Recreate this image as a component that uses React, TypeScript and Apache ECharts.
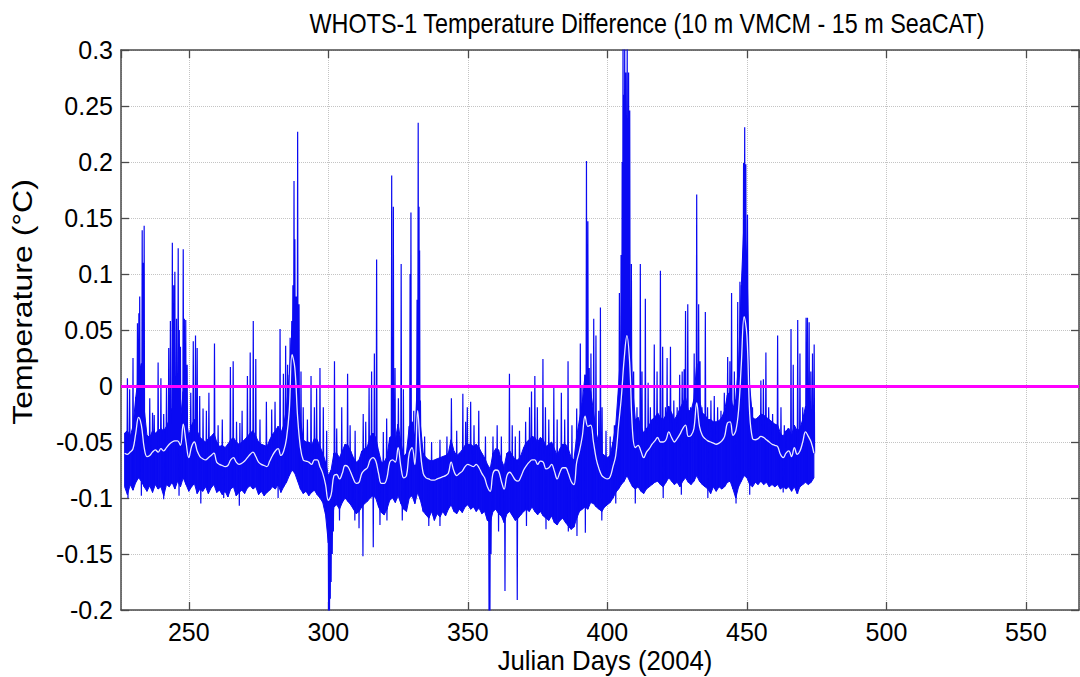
import React, { useEffect, useRef } from "react";
import * as echarts from "echarts";

const TITLE = "WHOTS-1 Temperature Difference (10 m VMCM - 15 m SeaCAT)";
const X_NAME = "Julian Days (2004)";
const Y_NAME = "Temperature (°C)";

const X_MIN = 225.7;
const X_MAX = 569;
const Y_MIN = -0.2;
const Y_MAX = 0.3;
const Y_STEP = 0.05;

// one sample per Julian day, starting at FIRST_DAY
const FIRST_DAY = 227;

// smoothed (white) curve, per day 227..474
const dailyMean = [
  -0.060, -0.061, -0.059, -0.056, -0.042, -0.028, -0.035, -0.055, -0.063, -0.062,
  -0.059, -0.057, -0.059, -0.056, -0.058, -0.055, -0.052, -0.050, -0.049, -0.049,
  -0.053, -0.034, -0.050, -0.064, -0.054, -0.050, -0.058, -0.063, -0.065, -0.066,
  -0.064, -0.062, -0.060, -0.068, -0.070, -0.071, -0.072, -0.071, -0.066, -0.064,
  -0.068, -0.070, -0.069, -0.067, -0.064, -0.061, -0.059, -0.063, -0.068, -0.070,
  -0.071, -0.072, -0.067, -0.062, -0.058, -0.056, -0.062, -0.058, -0.047, -0.022,
  0.028, 0.016, -0.028, -0.055, -0.066, -0.067, -0.068, -0.070, -0.066, -0.066,
  -0.072, -0.078, -0.088, -0.102, -0.097, -0.080, -0.079, -0.083, -0.078, -0.071,
  -0.072, -0.077, -0.083, -0.087, -0.086, -0.078, -0.075, -0.073, -0.066, -0.064,
  -0.067, -0.078, -0.087, -0.087, -0.082, -0.068, -0.066, -0.068, -0.055, -0.072,
  -0.082, -0.080, -0.060, -0.055, -0.070, -0.022, -0.058, -0.078, -0.082, -0.083,
  -0.084, -0.084, -0.083, -0.082, -0.081, -0.080, -0.078, -0.068, -0.076, -0.080,
  -0.078, -0.076, -0.072, -0.070, -0.071, -0.072, -0.070, -0.073, -0.078, -0.082,
  -0.090, -0.094, -0.078, -0.075, -0.076, -0.085, -0.092, -0.080, -0.077, -0.080,
  -0.084, -0.085, -0.081, -0.075, -0.071, -0.068, -0.066, -0.066, -0.070, -0.067,
  -0.068, -0.074, -0.073, -0.070, -0.076, -0.083, -0.077, -0.073, -0.073, -0.078,
  -0.085, -0.088, -0.068, -0.058, -0.045, -0.027, -0.036, -0.035, -0.050, -0.065,
  -0.074, -0.080, -0.082, -0.083, -0.081, -0.072, -0.062, -0.035, -0.010, 0.024,
  0.045, 0.020, -0.040, -0.055, -0.053, -0.058, -0.064, -0.059, -0.056, -0.052,
  -0.049, -0.046, -0.050, -0.050, -0.048, -0.041, -0.046, -0.050, -0.047, -0.043,
  -0.038, -0.035, -0.045, -0.044, -0.038, -0.015, -0.036, -0.044, -0.047, -0.049,
  -0.050, -0.051, -0.052, -0.051, -0.049, -0.045, -0.033, -0.032, -0.044, -0.040,
  -0.022, 0.020, 0.062, 0.045, -0.025, -0.047, -0.048, -0.047, -0.045, -0.046,
  -0.048, -0.050, -0.052, -0.053, -0.054, -0.061, -0.064, -0.060, -0.058, -0.063,
  -0.055, -0.061, -0.058, -0.050, -0.041, -0.045, -0.050, -0.060,
];

// lower edge of the dense blue band, per day 227..474
const bandLow = [
  -0.090, -0.097, -0.088, -0.093, -0.086, -0.082, -0.085, -0.090, -0.094, -0.089,
  -0.095, -0.088, -0.092, -0.090, -0.098, -0.088, -0.090, -0.086, -0.092, -0.085,
  -0.090, -0.082, -0.088, -0.094, -0.090, -0.087, -0.096, -0.092, -0.094, -0.090,
  -0.096, -0.091, -0.088, -0.095, -0.093, -0.097, -0.094, -0.099, -0.092, -0.090,
  -0.098, -0.095, -0.093, -0.096, -0.091, -0.089, -0.092, -0.090, -0.097, -0.094,
  -0.098, -0.095, -0.093, -0.090, -0.092, -0.088, -0.095, -0.090, -0.086, -0.080,
  -0.075, -0.078, -0.085, -0.092, -0.096, -0.094, -0.098, -0.095, -0.093, -0.097,
  -0.100, -0.104, -0.115, -0.140, -0.130, -0.108, -0.106, -0.110, -0.104, -0.100,
  -0.103, -0.106, -0.110, -0.114, -0.112, -0.108, -0.105, -0.103, -0.100, -0.098,
  -0.100, -0.108, -0.113, -0.115, -0.110, -0.102, -0.100, -0.104, -0.098, -0.105,
  -0.110, -0.112, -0.100, -0.098, -0.105, -0.095, -0.102, -0.112, -0.115, -0.118,
  -0.112, -0.120, -0.114, -0.117, -0.112, -0.116, -0.110, -0.106, -0.112, -0.114,
  -0.110, -0.113, -0.108, -0.106, -0.110, -0.108, -0.112, -0.109, -0.114, -0.112,
  -0.120, -0.122, -0.112, -0.110, -0.114, -0.116, -0.122, -0.114, -0.112, -0.116,
  -0.120, -0.118, -0.115, -0.112, -0.110, -0.112, -0.108, -0.112, -0.115, -0.112,
  -0.116, -0.118, -0.120, -0.116, -0.122, -0.124, -0.120, -0.118, -0.122, -0.125,
  -0.128, -0.126, -0.118, -0.112, -0.110, -0.108, -0.110, -0.104, -0.105, -0.108,
  -0.110, -0.112, -0.108, -0.106, -0.104, -0.100, -0.095, -0.092, -0.088, -0.085,
  -0.080, -0.085, -0.090, -0.092, -0.090, -0.094, -0.096, -0.092, -0.090, -0.088,
  -0.086, -0.085, -0.088, -0.090, -0.086, -0.082, -0.085, -0.088, -0.086, -0.090,
  -0.085, -0.082, -0.086, -0.088, -0.085, -0.080, -0.085, -0.088, -0.090, -0.092,
  -0.096, -0.090, -0.094, -0.090, -0.092, -0.090, -0.086, -0.085, -0.092, -0.100,
  -0.090, -0.085, -0.080, -0.082, -0.088, -0.090, -0.086, -0.088, -0.085, -0.088,
  -0.086, -0.090, -0.088, -0.090, -0.088, -0.092, -0.090, -0.092, -0.090, -0.094,
  -0.090, -0.096, -0.090, -0.088, -0.086, -0.088, -0.086, -0.082,
];

// upper edge of the dense blue band, per day 227..474
const bandHigh = [
  -0.042, -0.040, -0.045, -0.036, -0.010, 0.010, 0.020, -0.020, -0.044, -0.046,
  -0.040, -0.042, -0.040, -0.038, -0.040, -0.036, -0.030, -0.020, -0.025, -0.022,
  -0.030, -0.005, -0.028, -0.045, -0.035, -0.030, -0.040, -0.046, -0.048, -0.050,
  -0.047, -0.045, -0.042, -0.050, -0.054, -0.053, -0.055, -0.052, -0.048, -0.046,
  -0.050, -0.052, -0.050, -0.048, -0.045, -0.042, -0.040, -0.045, -0.050, -0.052,
  -0.053, -0.054, -0.048, -0.043, -0.040, -0.036, -0.042, -0.035, -0.020, 0.010,
  0.050, 0.050, 0.015, -0.030, -0.048, -0.050, -0.050, -0.053, -0.047, -0.048,
  -0.054, -0.060, -0.068, -0.080, -0.075, -0.060, -0.060, -0.064, -0.058, -0.052,
  -0.053, -0.058, -0.064, -0.068, -0.066, -0.058, -0.056, -0.054, -0.045, -0.042,
  -0.046, -0.058, -0.068, -0.068, -0.063, -0.046, -0.044, -0.048, -0.034, -0.050,
  -0.063, -0.060, -0.036, -0.032, -0.046, 0.010, -0.035, -0.060, -0.064, -0.066,
  -0.067, -0.066, -0.065, -0.064, -0.063, -0.062, -0.060, -0.048, -0.058, -0.062,
  -0.060, -0.057, -0.053, -0.052, -0.052, -0.054, -0.052, -0.055, -0.060, -0.064,
  -0.070, -0.074, -0.060, -0.056, -0.057, -0.066, -0.072, -0.060, -0.058, -0.062,
  -0.066, -0.066, -0.062, -0.055, -0.050, -0.048, -0.045, -0.046, -0.050, -0.046,
  -0.048, -0.054, -0.052, -0.050, -0.056, -0.062, -0.056, -0.052, -0.052, -0.056,
  -0.064, -0.066, -0.045, -0.030, -0.015, 0.010, 0.000, -0.005, -0.022, -0.042,
  -0.052, -0.060, -0.062, -0.064, -0.062, -0.050, -0.035, 0.000, 0.040, 0.090,
  0.110, 0.070, 0.000, -0.030, -0.028, -0.036, -0.042, -0.038, -0.035, -0.030,
  -0.028, -0.024, -0.028, -0.030, -0.026, -0.018, -0.024, -0.030, -0.026, -0.020,
  -0.015, -0.010, -0.022, -0.022, -0.012, 0.020, -0.012, -0.024, -0.026, -0.030,
  -0.030, -0.032, -0.032, -0.031, -0.028, -0.022, -0.008, -0.005, -0.020, -0.012,
  0.020, 0.090, 0.150, 0.110, 0.000, -0.028, -0.030, -0.028, -0.025, -0.026,
  -0.028, -0.030, -0.032, -0.034, -0.035, -0.042, -0.045, -0.040, -0.038, -0.044,
  -0.035, -0.040, -0.038, -0.030, -0.018, -0.022, -0.028, -0.035,
];

// upward spikes: [day, tip value]
const spikeTips: [number, number][] = [
  [228.0, 0.007], [228.8, -0.003], [230.0, 0.025], [231.6, 0.056], [232.1, 0.065], [232.4, 0.08],
  [233.3, 0.139], [233.6, 0.11], [234.0, 0.143], [236.0, -0.011], [237.0, -0.024], [237.6, -0.026],
  [239.0, 0.021], [240.0, 0.007], [241.0, -0.025], [242.0, -0.001], [242.8, 0.034], [243.4, 0.058],
  [244.1, 0.128], [244.6, 0.09], [245.0, 0.102], [245.6, 0.06], [246.2, 0.123], [246.6, 0.05],
  [247.0, 0.035], [248.0, 0.122], [248.4, 0.06], [248.9, 0.059], [249.4, 0.019], [250.7, -0.006],
  [251.6, 0.04], [252.4, 0.045], [253.0, 0.034], [253.9, -0.009], [255.1, -0.02], [256.3, -0.022],
  [257.2, -0.006], [259.2, 0.038], [260.5, -0.035], [262.0, -0.03], [264.9, 0.017], [265.9, 0.022],
  [267.1, -0.032], [268.3, -0.033], [269.1, -0.022], [271.0, 0.009], [272.0, 0.03], [273.1, 0.058],
  [274.0, 0.024], [275.5, -0.03], [277.8, -0.014], [279.7, -0.021], [280.9, -0.014], [282.7, 0.051],
  [283.9, 0.011], [284.7, 0.036], [285.4, 0.019], [286.3, 0.043], [286.9, 0.058], [287.3, 0.09],
  [287.7, 0.183], [288.0, 0.131], [288.5, 0.08], [289.0, 0.227], [289.5, 0.073], [290.2, 0.013],
  [291.0, -0.019], [292.5, -0.03], [293.8, 0.009], [295.0, -0.019], [295.8, -0.002], [297.0, 0.016],
  [298.2, -0.019], [299.4, -0.04], [302.2, 0.022], [303.0, -0.038], [304.8, -0.019], [306.9, 0.011],
  [307.8, -0.035], [309.6, -0.04], [312.5, -0.025], [313.4, -0.032], [314.6, 0.0], [315.5, 0.013],
  [316.5, 0.029], [317.3, 0.113], [319.7, -0.041], [320.9, -0.029], [322.7, 0.188], [323.3, 0.16],
  [323.9, 0.016], [325.1, -0.011], [326.1, 0.109], [326.9, -0.003], [329.3, 0.1], [329.6, 0.155],
  [330.6, -0.022], [331.8, 0.077], [332.2, 0.235], [332.5, 0.16], [332.7, 0.121], [333.0, -0.013],
  [334.5, -0.045], [337.0, -0.05], [340.0, -0.048], [342.5, -0.045], [344.1, -0.011], [346.0, -0.04],
  [348.2, -0.007], [349.2, -0.032], [349.8, -0.019], [351.0, -0.014], [352.2, -0.035], [353.9, -0.022],
  [356.3, -0.045], [359.0, -0.045], [360.5, -0.035], [362.0, -0.045], [364.9, 0.011], [365.9, -0.035],
  [367.0, -0.045], [368.5, -0.04], [370.7, -0.032], [372.1, -0.019], [372.8, -0.005], [374.0, 0.009],
  [374.9, -0.019], [376.9, 0.024], [377.8, -0.019], [379.0, -0.03], [380.8, -0.001], [382.0, -0.03],
  [383.5, -0.006], [384.7, -0.03], [385.9, 0.022], [387.3, -0.035], [389.0, -0.02], [390.3, 0.038],
  [390.9, 0.0], [391.9, 0.003], [392.5, 0.201], [393.0, 0.147], [393.5, 0.016], [394.1, 0.029],
  [395.1, 0.06], [395.9, 0.045], [396.9, -0.022], [397.5, 0.07], [398.1, -0.019], [399.5, -0.04],
  [401.0, -0.045], [402.5, -0.035], [403.8, -0.024], [404.3, 0.083], [404.9, 0.117], [405.3, 0.2],
  [405.6, 0.31], [405.9, 0.26], [406.2, 0.31], [406.6, 0.28], [407.1, 0.31], [407.6, 0.28],
  [408.0, 0.246], [408.6, 0.109], [409.4, 0.013], [410.6, -0.019], [411.8, 0.109], [412.4, 0.013],
  [413.6, 0.078], [414.6, 0.003], [415.4, -0.019], [416.8, 0.037], [417.8, 0.013], [419.0, 0.103],
  [419.8, 0.035], [420.8, -0.019], [421.4, 0.025], [422.6, 0.035], [423.8, -0.013], [425.0, -0.019],
  [425.9, 0.01], [426.8, 0.013], [427.5, 0.015], [428.0, 0.067], [428.8, 0.073], [429.8, -0.019],
  [431.1, 0.029], [432.0, 0.171], [432.7, 0.073], [433.2, 0.022], [433.9, -0.019], [435.1, 0.066],
  [435.9, -0.019], [437.1, -0.013], [438.3, -0.009], [439.5, -0.019], [440.7, -0.022], [441.9, -0.006],
  [443.1, 0.026], [443.9, 0.022], [444.5, 0.083], [445.5, 0.013], [446.7, 0.075], [447.5, 0.093],
  [448.2, 0.073], [448.8, 0.199], [449.2, 0.231], [449.6, 0.198], [450.2, 0.153], [450.8, -0.019],
  [452.0, -0.019], [453.0, -0.029], [455.0, 0.005], [455.9, 0.006], [456.8, 0.03], [457.8, -0.019],
  [459.2, -0.025], [461.0, 0.045], [462.2, -0.019], [463.4, -0.035], [464.6, -0.038], [465.8, 0.051],
  [466.6, 0.019], [468.2, 0.059], [469.0, 0.029], [470.0, -0.019], [471.2, 0.061], [471.7, 0.061],
  [472.3, 0.057], [472.9, 0.013], [473.5, 0.029], [474.1, 0.037],
];

// downward spikes: [day, tip value]
const dipTips: [number, number][] = [
  [228.2, -0.1], [233.0, -0.098], [241.0, -0.101], [246.5, -0.098], [254.3, -0.105], [262.5, -0.1],
  [268.1, -0.107], [282.0, -0.1], [299.8, -0.125], [300.1, -0.215], [300.4, -0.215], [300.7, -0.19],
  [301.0, -0.175], [301.4, -0.15], [301.8, -0.13], [304.0, -0.12], [309.5, -0.12], [311.0, -0.127],
  [312.4, -0.152], [316.1, -0.144], [318.5, -0.124], [321.0, -0.12], [326.5, -0.12], [336.0, -0.125],
  [340.0, -0.125], [357.6, -0.215], [357.9, -0.215], [358.3, -0.15], [361.0, -0.13], [363.3, -0.183],
  [367.7, -0.191], [371.0, -0.125], [378.0, -0.128], [386.0, -0.13], [389.1, -0.134], [392.1, -0.131],
  [398.0, -0.12], [403.0, -0.105], [410.0, -0.105], [420.0, -0.1], [426.5, -0.097], [436.0, -0.1],
  [446.1, -0.105], [451.0, -0.097], [463.0, -0.095], [468.2, -0.096],
];

const BLUE = "#0a0af2";
const MAGENTA = "#ff00ff";
const AXIS = "#4a4a4a";
const FONT = '"Liberation Sans", Arial, Helvetica, sans-serif';
const NARROW = '"Liberation Sans Narrow", "Arial Narrow", "Liberation Sans", Arial, sans-serif';

export default function App() {
  const ref = useRef<HTMLDivElement>(null);

  useEffect(() => {
    document.body.style.margin = "0";
    const el = ref.current;
    if (!el) return;
    const chart = echarts.init(el, undefined, { renderer: "svg" });

    // band segments between consecutive days: [d0, low0, high0, d1, low1, high1]
    const bandData: number[][] = [];
    for (let i = 0; i < dailyMean.length - 1; i++) {
      bandData.push([
        FIRST_DAY + i, bandLow[i], bandHigh[i],
        FIRST_DAY + i + 1, bandLow[i + 1], bandHigh[i + 1],
      ]);
    }
    const meanData = dailyMean.map((v, i) => [FIRST_DAY + i, v]);
    const meanAt = (d: number) =>
      dailyMean[Math.max(0, Math.min(dailyMean.length - 1, Math.round(d) - FIRST_DAY))];
    const spikeData: (number | null)[][] = [];
    [...spikeTips, ...dipTips].forEach(([d, v]) => {
      const b = meanAt(d);
      spikeData.push([d - 0.15, b], [d, v], [d + 0.15, b], [d + 0.15, null]);
    });

    const xCommon = {
      type: "value" as const,
      min: X_MIN,
      max: X_MAX,
      splitNumber: 7,
      minInterval: 50,
      maxInterval: 50,
    };
    const tick = { show: true, inside: true, length: 8, lineStyle: { color: AXIS, width: 1.3 } };
    const line = { show: true, onZero: false, lineStyle: { color: AXIS, width: 1.5 } };
    const split = { show: true, lineStyle: { color: "#c4c4c4", type: "dotted" as const, width: 1 } };

    chart.setOption({
      animation: false,
      backgroundColor: "#ffffff",
      grid: { left: 121, right: 1, top: 50, bottom: 67, containLabel: false },
      xAxis: [
        {
          ...xCommon,
          position: "bottom",
          axisLine: line,
          axisTick: tick,
          splitLine: split,
          axisLabel: {
            show: true,
            showMinLabel: false,
            showMaxLabel: false,
            color: "#000",
            fontSize: 25,
            fontFamily: NARROW,
            margin: 9,
          },
        },
        {
          ...xCommon,
          position: "top",
          axisLine: line,
          axisTick: tick,
          splitLine: { show: false },
          axisLabel: { show: false },
        },
      ],
      yAxis: [
        {
          type: "value",
          min: Y_MIN,
          max: Y_MAX,
          interval: Y_STEP,
          position: "left",
          axisLine: line,
          axisTick: tick,
          splitLine: split,
          axisLabel: {
            color: "#000",
            fontSize: 25,
            fontFamily: NARROW,
            margin: 8,
            formatter: (v: number) => String(Math.round(v * 100) / 100),
          },
        },
        {
          type: "value",
          min: Y_MIN,
          max: Y_MAX,
          interval: Y_STEP,
          position: "right",
          axisLine: line,
          axisTick: tick,
          splitLine: { show: false },
          axisLabel: { show: false },
        },
      ],
      series: [
        {
          type: "custom",
          name: "band",
          data: bandData,
          silent: true,
          clip: true,
          encode: { x: [0, 3], y: [1, 2, 4, 5] },
          renderItem: (_params: any, api: any) => {
            const p1 = api.coord([api.value(0), api.value(1)]);
            const p2 = api.coord([api.value(3), api.value(4)]);
            const p3 = api.coord([api.value(3), api.value(5)]);
            const p4 = api.coord([api.value(0), api.value(2)]);
            return {
              type: "polygon",
              shape: { points: [p1, p2, p3, p4] },
              style: { fill: BLUE, stroke: BLUE, lineWidth: 1 },
            };
          },
          z: 2,
        },
        {
          type: "line",
          name: "spikes",
          data: spikeData,
          symbol: "none",
          silent: true,
          connectNulls: false,
          lineStyle: { color: BLUE, width: 1.2 },
          z: 3,
        },
        {
          type: "line",
          name: "smoothed",
          data: meanData,
          symbol: "none",
          silent: true,
          smooth: 0.4,
          lineStyle: { color: "#ececff", width: 1.3 },
          z: 4,
          markLine: {
            silent: true,
            symbol: ["none", "none"],
            label: { show: false },
            lineStyle: { color: MAGENTA, width: 3, type: "solid" },
            emphasis: { disabled: true },
            data: [{ yAxis: 0 }],
            z: 5,
          },
        },
      ],
      graphic: [
        {
          type: "text",
          x: 647,
          y: 23,
          scaleX: 0.82,
          style: {
            text: TITLE,
            fontSize: 28.5,
            fontFamily: FONT,
            fill: "#000",
            align: "center",
            verticalAlign: "middle",
          },
        },
        {
          type: "text",
          x: 605,
          y: 661,
          scaleX: 0.92,
          style: {
            text: X_NAME,
            fontSize: 28,
            fontFamily: FONT,
            fill: "#000",
            align: "center",
            verticalAlign: "middle",
          },
        },
        {
          type: "text",
          x: 22,
          y: 302,
          rotation: Math.PI / 2,
          scaleY: 0.85,
          style: {
            text: Y_NAME,
            fontSize: 32,
            fontFamily: FONT,
            fill: "#000",
            align: "center",
            verticalAlign: "middle",
          },
        },
      ],
    });

    return () => chart.dispose();
  }, []);

  return <div ref={ref} style={{ width: 1080, height: 677 }} />;
}
